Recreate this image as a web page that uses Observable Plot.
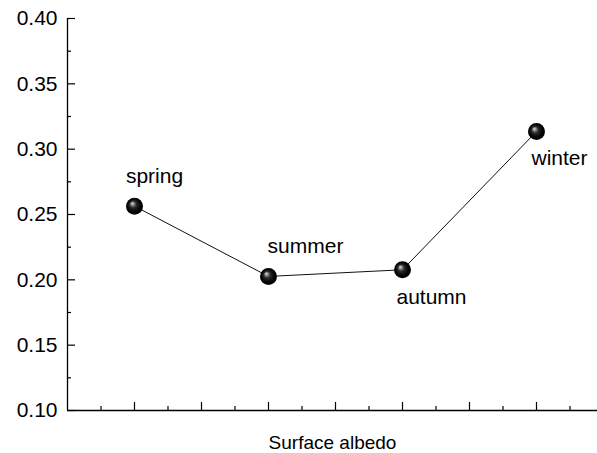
<!DOCTYPE html>
<html>
<head>
<meta charset="utf-8">
<script src="https://cdn.jsdelivr.net/npm/d3@7"></script>
<script src="https://cdn.jsdelivr.net/npm/@observablehq/plot@0.6"></script>
<style>
  html, body { margin: 0; padding: 0; background: #fff; }
  svg { display: block; }
</style>
</head>
<body>
<div id="chart"></div>
<script>
// Data
const seasons = ["spring", "summer", "autumn", "winter"];
const seasonPos = [1, 3, 5, 7];
const albedo = [0.2564, 0.2026, 0.2077, 0.3135];

const yMajor = [0.10, 0.15, 0.20, 0.25, 0.30, 0.35, 0.40];
const yMinor = [0.125, 0.175, 0.225, 0.275, 0.325, 0.375];
const xMajor = [1, 2, 3, 4, 5, 6, 7];
const xMinor = [0.5, 1.5, 2.5, 3.5, 4.5, 5.5, 6.5, 7.5];
const xLabel = "Surface albedo";

const data = seasons.map((s, i) => ({season: s, x: seasonPos[i], y: albedo[i]}));

// label offsets (style)
const labelOffsets = {
  spring: {dx: 20, dy: -30},
  summer: {dx: 37, dy: -30},
  autumn: {dx: 29, dy: 27},
  winter: {dx: 23, dy: 27}
};

const font = "'Liberation Sans', Arial, sans-serif";
const noLabel = () => "";

const chart = Plot.plot({
  width: 597,
  height: 453,
  marginLeft: 67,
  marginRight: 0,
  marginTop: 18,
  marginBottom: 43,
  style: {fontFamily: font, fontSize: "21px", color: "#000", background: "#fff"},
  x: {domain: [0, 530 / 67], label: null},
  y: {domain: [0.10, 0.40], label: null},
  marks: [
    // axis lines
    Plot.ruleX([0], {stroke: "#000", strokeWidth: 1.3}),
    Plot.ruleY([0.10], {stroke: "#000", strokeWidth: 1.3}),
    // y axis major ticks with labels (ticks inward)
    Plot.axisY(yMajor, {tickSize: -8, tickPadding: 18, tickFormat: d3.format(".2f"), label: null, fontSize: 21, stroke: "#000", strokeWidth: 1.2}),
    Plot.axisY(yMinor, {tickSize: -4, tickFormat: noLabel, label: null, stroke: "#000", strokeWidth: 1.2}),
    Plot.axisX(xMajor, {tickSize: -8, tickFormat: noLabel, label: null, stroke: "#000", strokeWidth: 1.2}),
    Plot.axisX(xMinor, {tickSize: -4, tickFormat: noLabel, label: null, stroke: "#000", strokeWidth: 1.2}),
    Plot.axisX({ticks: [], label: xLabel, labelAnchor: "center", labelArrow: "none", labelOffset: 38, fontSize: 19, tickSize: 0}),
    // line
    Plot.line(data, {x: "x", y: "y", stroke: "#111", strokeWidth: 1}),
    // balls
    Plot.dot(data, {x: "x", y: "y", r: 8.5, fill: "url(#ball)", stroke: "none"}),
    // labels
    ...seasons.map(s => Plot.text(data.filter(d => d.season === s), {
      x: "x", y: "y", text: "season", fontSize: 21, fill: "#000",
      textAnchor: "middle", dx: labelOffsets[s].dx, dy: labelOffsets[s].dy
    }))
  ]
});

// radial gradient for the spheres
const ns = "http://www.w3.org/2000/svg";
const defs = document.createElementNS(ns, "defs");
defs.innerHTML = `
  <radialGradient id="ball" cx="0.5" cy="0.5" r="0.5" fx="0.36" fy="0.33">
    <stop offset="0" stop-color="#f4f4f4"/>
    <stop offset="0.1" stop-color="#b0b0b0"/>
    <stop offset="0.4" stop-color="#2a2a2a"/>
    <stop offset="0.75" stop-color="#050505"/>
    <stop offset="1" stop-color="#000000"/>
  </radialGradient>`;
chart.insertBefore(defs, chart.firstChild);

document.getElementById("chart").appendChild(chart);
</script>
</body>
</html>
